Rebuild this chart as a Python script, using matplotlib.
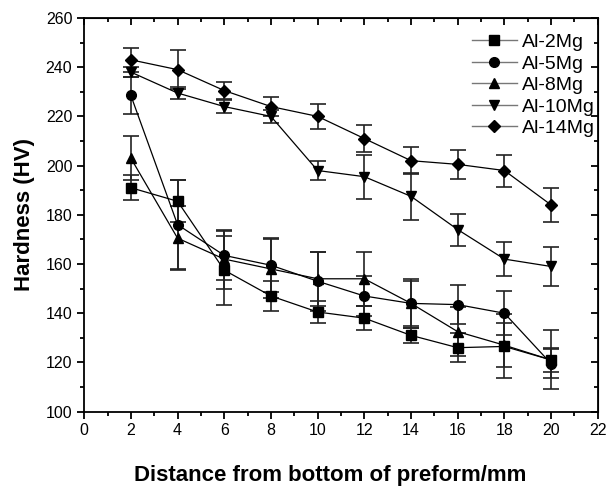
import matplotlib
matplotlib.use("Agg")
import matplotlib.pyplot as plt
from matplotlib.ticker import MultipleLocator
from matplotlib.lines import Line2D

plt.rcParams['font.family'] = ['Liberation Sans', 'DejaVu Sans']

x = [2, 4, 6, 8, 10, 12, 14, 16, 18, 20]
labels = ['Al-2Mg', 'Al-5Mg', 'Al-8Mg', 'Al-10Mg', 'Al-14Mg']
markers = ['s', 'o', '^', 'v', 'D']

al2 = [191, 185.5, 157.5, 147, 140.5, 138, 131, 126, 126.5, 121]
al2_err = [5, 8.5, 14, 6, 4.5, 5, 3, 6, 13, 5]
al5 = [228.5, 176, 163.5, 159.5, 153, 147, 144, 143.5, 140, 119.5]
al5_err = [7.5, 18, 10, 11, 12, 8, 10, 8, 9, 6]
al8 = [203, 170.5, 162, 158, 154, 154, 144, 132.5, 127, 121]
al8_err = [9, 13, 12, 12, 11, 11, 9, 10, 9, 12]
al10 = [238, 229.5, 224, 220, 198, 195.5, 187.5, 174, 162, 159]
al10_err = [2, 2.5, 2.5, 2.5, 4, 9, 9.5, 6.5, 7, 8]
al14 = [243, 239, 230.5, 224, 220, 211, 202, 200.5, 198, 184]
al14_err = [5, 8, 3.5, 4, 5, 5.5, 5.5, 6, 6.5, 7]

series = [al2, al5, al8, al10, al14]
errs = [al2_err, al5_err, al8_err, al10_err, al14_err]

fig = plt.figure(figsize=(6.1, 4.86), dpi=100)
ax = fig.add_axes([0.138, 0.153, 0.842, 0.81])

handles = []
for y, e, m, lab in zip(series, errs, markers, labels):
    ms = 7 if m != 'D' else 6
    ax.errorbar(x, y, yerr=e, fmt='none', ecolor='#222222', elinewidth=1.2,
                capsize=6, capthick=1.2, zorder=2)
    ax.plot(x, y, color='black', lw=0.9, marker=m, ms=ms, mfc='black',
            mec='black', zorder=3)
    handles.append(Line2D([], [], color='#777777', lw=1.0, marker=m, ms=ms,
                          mfc='black', mec='black', label=lab))

ax.set_xlim(0, 22)
ax.set_ylim(100, 260)
ax.xaxis.set_major_locator(MultipleLocator(2))
ax.xaxis.set_minor_locator(MultipleLocator(1))
ax.yaxis.set_major_locator(MultipleLocator(20))
ax.yaxis.set_minor_locator(MultipleLocator(10))
ax.tick_params(which='both', direction='out', labelsize=11.5, width=1.3)
ax.tick_params(which='major', length=5)
ax.tick_params(which='minor', length=3)
for s in ax.spines.values():
    s.set_linewidth(1.3)

sx = ax.secondary_xaxis('top')
sx.xaxis.set_major_locator(MultipleLocator(2))
sx.xaxis.set_minor_locator(MultipleLocator(1))
sx.tick_params(which='both', direction='in', labeltop=False, width=1.3)
sx.tick_params(which='major', length=5)
sx.tick_params(which='minor', length=3)
sy = ax.secondary_yaxis('right')
sy.yaxis.set_major_locator(MultipleLocator(20))
sy.yaxis.set_minor_locator(MultipleLocator(10))
sy.tick_params(which='both', direction='in', labelright=False, width=1.3)
sy.tick_params(which='major', length=5)
sy.tick_params(which='minor', length=3)

ax.set_ylabel('Hardness (HV)', fontsize=16, fontweight='bold', labelpad=8)
ax.set_xlabel('Distance from bottom of preform/mm', fontsize=16,
              fontweight='bold', labelpad=20)
ax.xaxis.set_label_coords(0.479, -0.135)

ax.legend(handles=handles, loc='upper right', bbox_to_anchor=(1.005, 0.975),
          frameon=False, fontsize=14, handlelength=2.3, handletextpad=0.25,
          labelspacing=0.2, borderaxespad=0.0, borderpad=0.3)

fig.savefig('out.png', dpi=100)
